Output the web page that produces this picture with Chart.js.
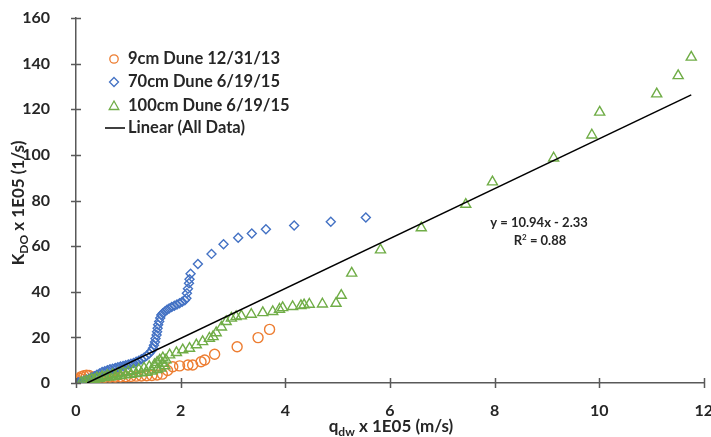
<!DOCTYPE html>
<html>
<head>
<meta charset="utf-8">
<script src="https://cdn.jsdelivr.net/npm/chart.js@4.4.1/dist/chart.umd.min.js"></script>
<style>
  html, body { margin: 0; padding: 0; background: #fff; }
  #wrap { width: 711px; height: 437px; }
</style>
</head>
<body>
<div id="wrap"><canvas id="chart" width="711" height="437"></canvas></div>
<script>
// 9cm Dune 12/31/13
const arrX9 = [0.0, 0.02, 0.05, 0.08, 0.1, 0.15, 0.2, 0.25, 0.35, 0.45, 0.55, 0.65, 0.75, 0.85, 0.95, 1.05,
    1.15, 1.25, 1.35, 1.45, 1.55, 1.65, 1.75, 1.85, 1.98, 2.14, 2.23, 2.39, 2.46, 2.65, 3.08, 3.48, 3.70];
const arrY9 = [0.5, 0.3, 1.0, 2.0, 2.8, 3.2, 3.4, 3.3, 2.6, 2.5, 2.5, 2.6, 2.6, 2.7, 2.8, 2.9,
    3.0, 3.1, 3.2, 3.3, 3.5, 3.9, 5.5, 7.1, 7.5, 7.9, 7.9, 9.3, 10.1, 12.6, 15.9, 19.9, 23.5];

// 70cm Dune 6/19/15
const arrX70 = [0.03, 0.05, 0.1, 0.15, 0.2, 0.25, 0.3, 0.35, 0.4, 0.45, 0.5, 0.55, 0.6, 0.65, 0.7, 0.75,
    0.8, 0.85, 0.9, 0.95, 1.0, 1.05, 1.1, 1.15, 1.2, 1.25, 1.3, 1.35, 1.4, 1.44, 1.47, 1.49, 1.51, 1.52,
    1.54, 1.55, 1.56, 1.57, 1.59, 1.61, 1.63, 1.66, 1.7, 1.74, 1.78, 1.83, 1.88, 1.93, 1.98, 2.03, 2.08,
    2.11, 2.12, 2.14, 2.16, 2.17, 2.19, 2.33, 2.59, 2.82, 3.10, 3.36, 3.63, 4.17, 4.87, 5.54];
const arrY70 = [0.1, 0.3, 0.6, 1.0, 1.4, 1.9, 2.4, 3.0, 3.6, 4.2, 4.8, 5.2, 5.6, 6.0, 6.3, 6.6,
    6.9, 7.2, 7.5, 7.8, 8.1, 8.4, 8.8, 9.3, 9.8, 10.4, 11.1, 11.9, 12.9, 14.0, 15.2, 16.5, 18.0, 19.5,
    21.0, 22.5, 24.0, 25.5, 27.0, 28.5, 29.8, 30.6, 31.4, 32.1, 32.7, 33.3, 33.9, 34.4, 35.0, 35.6, 36.3,
    37.1, 39.3, 41.3, 43.7, 45.5, 47.9, 52.2, 56.6, 60.8, 63.7, 65.5, 67.4, 69.0, 70.7, 72.5];

// 100cm Dune 6/19/15
const arrX100 = [0.1, 0.15, 0.2, 0.25, 0.3, 0.35, 0.4, 0.45, 0.5, 0.55, 0.6, 0.65, 0.7, 0.75, 0.8, 0.85,
    0.9, 0.95, 1.0, 1.05, 1.1, 1.15, 1.2, 1.25, 1.3, 1.35, 1.4, 1.45, 1.5, 1.55, 1.55, 1.6, 1.62, 1.65,
    1.66, 1.7, 1.72, 1.79, 1.92, 2.04, 2.17, 2.30, 2.42, 2.55, 2.62, 2.68, 2.78, 2.87, 2.97, 3.06,
    3.16, 3.35, 3.57, 3.76, 3.89, 3.95, 4.14, 4.30, 4.36, 4.46, 4.71, 4.97, 5.07, 5.27, 5.82, 6.60, 7.45,
    7.96, 9.13, 9.86, 10.01, 11.10, 11.51, 11.76];
const arrY100 = [0.2, 0.4, 0.8, 1.0, 1.6, 1.5, 2.2, 1.9, 2.8, 2.3, 3.3, 2.6, 3.8, 2.9, 4.2, 3.2,
    4.6, 3.5, 5.0, 3.8, 5.4, 4.1, 5.9, 4.4, 6.5, 4.7, 7.2, 5.2, 8.0, 5.8, 9.0, 10.0, 6.5, 8.6,
    11.0, 7.5, 10.1, 12.3, 13.3, 14.5, 15.2, 16.7, 18.1, 19.6, 20.3, 22.0, 24.5, 26.9, 28.4, 29.1,
    29.4, 30.1, 30.8, 31.3, 32.3, 33.0, 33.5, 33.9, 34.2, 34.5, 34.6, 34.9, 38.4, 48.1, 58.3, 68.0, 78.3,
    88.1, 98.6, 108.7, 118.7, 126.7, 134.7, 142.8];

// Linear fit over all data: y = 10.94x - 2.33
const fitSlope = 10.94;
const fitIntercept = -2.33;
const arrFitX = [0.213, 11.76];
const strFitEq = 'y = 10.94x - 2.33';
const strFitR2 = '0.88';

// Axis ticks
const arrXTicks = [0, 2, 4, 6, 8, 10, 12];
const arrYTicks = [0, 20, 40, 60, 80, 100, 120, 140, 160];

const arrLegend = ['9cm Dune 12/31/13', '70cm Dune 6/19/15', '100cm Dune 6/19/15', 'Linear (All Data)'];

const colOrange = '#ED7D31';
const colBlue = '#4472C4';
const colGreen = '#70AD47';
const colText = '#262626';
const colAxis = '#595959';
const strFont = 'Lato, "Open Sans", sans-serif';

function toPoints(arrX, arrY) {
    return arrX.map((x, i) => ({ x: x, y: arrY[i] }));
}

/** Draw text centred on x with a lowered, smaller subscript run. parts: [[text, isSub], ...] */
function drawRich(ctx, parts, x, y, size) {
    const big = `bold ${size}px ${strFont}`;
    const small = `bold ${Math.round(size * 0.7)}px ${strFont}`;
    let total = 0;
    for (const [t, sub] of parts) {
        ctx.font = sub ? small : big;
        total += ctx.measureText(t).width;
    }
    let cx = x - total / 2;
    ctx.textAlign = 'left';
    ctx.textBaseline = 'alphabetic';
    for (const [t, sub] of parts) {
        ctx.font = sub ? small : big;
        ctx.fillText(t, cx, sub ? y + size * 0.25 : y);
        cx += ctx.measureText(t).width;
    }
}

// Tick marks crossing the axis, axis titles, the trendline label and the legend
const decorPlugin = {
    id: 'decor',
    afterDraw(chart) {
        const ctx = chart.ctx;
        const xs = chart.scales.x;
        const ys = chart.scales.y;
        const area = chart.chartArea;
        ctx.save();

        ctx.strokeStyle = colAxis;
        ctx.lineWidth = 1.5;
        ctx.beginPath();
        for (const v of arrYTicks) {
            const py = Math.round(ys.getPixelForValue(v)) + 0.5;
            ctx.moveTo(area.left - 5, py);
            ctx.lineTo(area.left + 5, py);
        }
        for (const v of arrXTicks) {
            const px = Math.round(xs.getPixelForValue(v)) + 0.5;
            ctx.moveTo(px, area.bottom - 5);
            ctx.lineTo(px, area.bottom + 5);
        }
        ctx.stroke();

        ctx.fillStyle = colText;
        // x title
        drawRich(ctx, [['q', false], ['dw', true], [' x 1E05 (m/s)', false]], 391, 432, 17);
        // y title
        ctx.save();
        ctx.translate(24, 203);
        ctx.rotate(-Math.PI / 2);
        drawRich(ctx, [['K', false], ['DO', true], [' x 1E05 (1/s)', false]], 0, 0, 17);
        ctx.restore();

        // trendline label
        const fEq = `bold 13px ${strFont}`;
        const fSup = `bold 8px ${strFont}`;
        ctx.font = fEq;
        ctx.textAlign = 'center';
        ctx.textBaseline = 'middle';
        ctx.fillText(strFitEq, 539, 223);
        const r1 = 'R';
        const r2 = ' = ' + strFitR2;
        const wR = ctx.measureText(r1).width;
        const wR2 = ctx.measureText(r2).width;
        ctx.font = fSup;
        const wSup = ctx.measureText('2').width;
        const lx = 540 - (wR + wSup + wR2) / 2;
        ctx.textAlign = 'left';
        ctx.font = fEq;
        ctx.fillText(r1, lx, 241);
        ctx.font = fSup;
        ctx.fillText('2', lx + wR, 237);
        ctx.font = fEq;
        ctx.fillText(r2, lx + wR + wSup, 241);

        // legend
        const arrRowY = [59, 82, 106, 128];
        const mx = 114;
        ctx.lineWidth = 1.3;
        ctx.strokeStyle = colOrange;
        ctx.beginPath();
        ctx.arc(mx, arrRowY[0], 4.2, 0, Math.PI * 2);
        ctx.stroke();
        ctx.strokeStyle = colBlue;
        ctx.beginPath();
        ctx.moveTo(mx, arrRowY[1] - 4.5);
        ctx.lineTo(mx + 4.5, arrRowY[1]);
        ctx.lineTo(mx, arrRowY[1] + 4.5);
        ctx.lineTo(mx - 4.5, arrRowY[1]);
        ctx.closePath();
        ctx.stroke();
        ctx.strokeStyle = colGreen;
        ctx.beginPath();
        ctx.moveTo(mx, arrRowY[2] - 5);
        ctx.lineTo(mx + 4.8, arrRowY[2] + 3.5);
        ctx.lineTo(mx - 4.8, arrRowY[2] + 3.5);
        ctx.closePath();
        ctx.stroke();
        ctx.strokeStyle = '#000';
        ctx.lineWidth = 1.5;
        ctx.beginPath();
        ctx.moveTo(105, arrRowY[3]);
        ctx.lineTo(125, arrRowY[3]);
        ctx.stroke();

        ctx.fillStyle = colText;
        ctx.font = `bold 16.5px ${strFont}`;
        ctx.textAlign = 'left';
        ctx.textBaseline = 'middle';
        arrLegend.forEach((s, i) => ctx.fillText(s, 128, arrRowY[i]));

        ctx.restore();
    }
};

const scatterStyle = (color, style, radius) => ({
    borderColor: color,
    backgroundColor: 'rgba(0,0,0,0)',
    pointStyle: style,
    pointRadius: radius,
    pointHoverRadius: radius,
    borderWidth: 1.4,
    showLine: false
});

new Chart(document.getElementById('chart'), {
    type: 'scatter',
    data: {
        datasets: [
            { label: arrLegend[0], data: toPoints(arrX9, arrY9), order: 4, ...scatterStyle(colOrange, 'circle', 5) },
            { label: arrLegend[1], data: toPoints(arrX70, arrY70), order: 3, ...scatterStyle(colBlue, 'rectRot', 4.5) },
            { label: arrLegend[2], data: toPoints(arrX100, arrY100), order: 2, ...scatterStyle(colGreen, 'triangle', 5.8) },
            {
                label: arrLegend[3],
                data: arrFitX.map(x => ({ x: x, y: fitSlope * x + fitIntercept })),
                order: 1,
                showLine: true,
                borderColor: '#000',
                borderWidth: 1.5,
                pointRadius: 0,
                fill: false
            }
        ]
    },
    options: {
        responsive: false,
        animation: false,
        devicePixelRatio: 1,
        layout: { padding: { top: 18, right: 5, left: 0, bottom: 0 } },
        plugins: {
            legend: { display: false },
            tooltip: { enabled: false }
        },
        scales: {
            x: {
                type: 'linear',
                min: arrXTicks[0],
                max: arrXTicks[arrXTicks.length - 1],
                grid: { display: false },
                border: { display: true, color: colAxis, width: 1.5 },
                ticks: {
                    stepSize: 2,
                    padding: 10,
                    color: colText,
                    font: { family: strFont, size: 16, weight: 'bold' }
                },
                afterFit(scale) {
                    scale.height = 54;
                    scale.paddingLeft = 0;
                    scale.paddingRight = 0;
                }
            },
            y: {
                type: 'linear',
                min: arrYTicks[0],
                max: arrYTicks[arrYTicks.length - 1],
                grid: { display: false },
                border: { display: true, color: colAxis, width: 1.5 },
                ticks: {
                    stepSize: 20,
                    padding: 18,
                    color: colText,
                    font: { family: strFont, size: 16, weight: 'bold' }
                },
                afterFit(scale) {
                    scale.width = 76;
                    scale.paddingTop = 0;
                    scale.paddingBottom = 0;
                }
            }
        }
    },
    plugins: [decorPlugin]
});
</script>
</body>
</html>
